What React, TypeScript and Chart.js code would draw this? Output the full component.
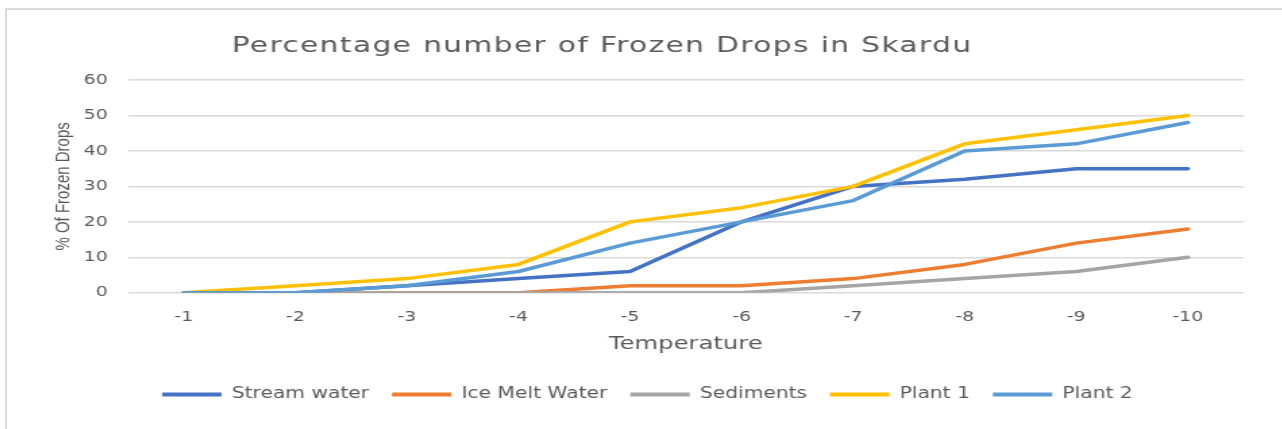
import React, { useEffect, useRef } from "react";
import { Chart, registerables } from "chart.js";

Chart.register(...registerables);

const chartTitle = "Percentage number of Frozen Drops in Skardu";
const xAxisTitle = "Temperature";
const yAxisTitle = "% Of Frozen Drops";

const temperatures = ["-1", "-2", "-3", "-4", "-5", "-6", "-7", "-8", "-9", "-10"];
const streamWater = [0, 0, 2, 4, 6, 20, 30, 32, 35, 35];
const iceMeltWater = [0, 0, 0, 0, 2, 2, 4, 8, 14, 18];
const sediments = [0, 0, 0, 0, 0, 0, 2, 4, 6, 10];
const plant1 = [0, 2, 4, 8, 20, 24, 30, 42, 46, 50];
const plant2 = [0, 0, 2, 6, 14, 20, 26, 40, 42, 48];
const seriesNames = ["Stream water", "Ice Melt Water", "Sediments", "Plant 1", "Plant 2"];
const seriesColors = ["#4472C4", "#ED7D31", "#A5A5A5", "#FFC000", "#5B9BD5"];

const SCALE_X = 1.35;
const OUTER_W = 1277;
const OUTER_H = 421;
const INNER_W = Math.round((OUTER_W - 2) / SCALE_X);
const INNER_H = OUTER_H - 2;
const TEXT = "#595959";
const CLEAR = "rgba(0,0,0,0)";

const titlePlugin = {
  id: "sheetTitle",
  afterDraw(chart: any) {
    const ctx = chart.ctx;
    ctx.save();
    ctx.font = '22px "DejaVu Sans"';
    try {
      (ctx as any).letterSpacing = "1px";
    } catch (e) {}
    ctx.fillStyle = TEXT;
    ctx.textAlign = "center";
    ctx.textBaseline = "alphabetic";
    ctx.fillText(chartTitle, (602 - 7) / SCALE_X, 42);
    ctx.restore();
  },
};

export default function App() {
  const ref = useRef<HTMLCanvasElement | null>(null);

  useEffect(() => {
    if (!ref.current) return;
    const all = [streamWater, iceMeltWater, sediments, plant1, plant2];
    const chart = new Chart(ref.current, {
      type: "line",
      data: {
        labels: temperatures,
        datasets: all.map((d, i) => ({
          label: seriesNames[i],
          data: d,
          borderColor: seriesColors[i],
          backgroundColor: seriesColors[i],
          borderWidth: 3.5,
          pointRadius: 0,
          pointHoverRadius: 0,
          tension: 0,
          fill: false,
          borderCapStyle: "round" as const,
          borderJoinStyle: "round" as const,
          order: all.length - i,
        })),
      },
      options: {
        responsive: false,
        animation: false,
        devicePixelRatio: 1,
        layout: { padding: { top: 70, right: 28, bottom: 17, left: 32.8 } },
        plugins: {
          title: { display: false },
          tooltip: { enabled: false },
          legend: {
            display: true,
            position: "bottom",
            labels: {
              boxWidth: 44,
              boxHeight: 4,
              padding: 17,
              color: TEXT,
              font: { family: '"DejaVu Sans"', size: 15 },
              sort: (a: any, b: any) => a.datasetIndex - b.datasetIndex,
              generateLabels: (c: any) =>
                Chart.defaults.plugins.legend.labels
                  .generateLabels(c)
                  .map((l: any) => ({ ...l, lineWidth: 0 })),
            },
          },
        },
        scales: {
          x: {
            type: "category",
            offset: true,
            grid: { display: true, color: CLEAR, tickColor: CLEAR, drawTicks: true, tickLength: 8 },
            border: { display: false },
            ticks: {
              color: TEXT,
              font: { family: '"DejaVu Sans"', size: 14 },
              padding: 8,
              maxRotation: 0,
            },
            title: {
              display: true,
              text: xAxisTitle,
              color: TEXT,
              font: { family: '"DejaVu Sans"', size: 18 },
              padding: { top: 0, bottom: 14.8 },
            },
          },
          y: {
            min: 0,
            max: 60,
            grid: { color: "#D9D9D9", lineWidth: 1.5, drawTicks: true, tickLength: 11, tickColor: CLEAR },
            border: { display: false },
            ticks: {
              stepSize: 10,
              color: TEXT,
              font: { family: '"DejaVu Sans"', size: 14 },
              padding: 4,
            },
            title: {
              display: true,
              text: yAxisTitle,
              color: TEXT,
              font: { family: '"Liberation Sans"', size: 15 },
              padding: { top: 0, bottom: 2 },
            },
          },
        },
      },
      plugins: [titlePlugin],
    });
    return () => chart.destroy();
  }, []);

  return (
    <div
      style={{
        position: "absolute",
        left: 5,
        top: 8,
        width: OUTER_W,
        height: OUTER_H,
        boxSizing: "border-box",
        borderLeft: "2px solid #D9D9D9",
        borderTop: "2px solid #D9D9D9",
        overflow: "hidden",
        background: "#FFFFFF",
      }}
    >
      <div
        style={{
          width: INNER_W,
          height: INNER_H,
          transform: `scaleX(${SCALE_X})`,
          transformOrigin: "0 0",
        }}
      >
        <canvas ref={ref} width={INNER_W} height={INNER_H} style={{ display: "block" }} />
      </div>
    </div>
  );
}
